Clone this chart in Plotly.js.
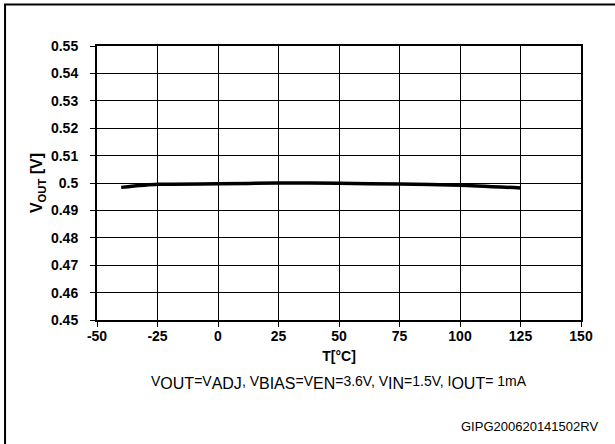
<!DOCTYPE html>
<html>
<head>
<meta charset="utf-8">
<script src="https://cdn.plot.ly/plotly-3.0.1.min.js"></script>
<style>html,body{margin:0;padding:0;background:#fff;}#chart{width:615px;height:444px;}</style>
</head>
<body>
<div id="chart"></div>
<script>
// Data
const temperature = [-40, -25, 0, 25, 50, 75, 100, 125];
const vout = [0.4984, 0.4995, 0.4997, 0.5000, 0.4999, 0.4996, 0.4992, 0.4982];
const xTicks = [-50, -25, 0, 25, 50, 75, 100, 125, 150];
const xTickText = ['-50', '-25', '0', '25', '50', '75', '100', '125', '150'];
const yTicks = [0.45, 0.46, 0.47, 0.48, 0.49, 0.5, 0.51, 0.52, 0.53, 0.54, 0.55];
const yTickText = ['0.45','0.46','0.47','0.48','0.49','0.5','0.51','0.52','0.53','0.54','0.55'];
const sb = s => '<sub><span style="font-size:16px">' + s + '</span></sub>';
const conditionText = 'V' + sb('OUT') + '=V' + sb('ADJ') + ', V' + sb('BIAS') + '=V' + sb('EN') +
  '=3.6V, V' + sb('IN') + '=1.5V, I' + sb('OUT') + '= 1mA';
const codeText = 'GIPG200620141502RV';

const font = 'Liberation Sans, Arial, sans-serif';

const trace = {
  x: temperature,
  y: vout,
  type: 'scatter',
  mode: 'lines',
  line: {color: '#000', width: 3.5, shape: 'spline', smoothing: 0.6},
  hoverinfo: 'skip'
};

const axisCommon = {
  showline: true, linecolor: '#000', linewidth: 2, mirror: true,
  showgrid: true, gridcolor: '#000', gridwidth: 1,
  ticks: 'outside', ticklen: 5, tickwidth: 1, tickcolor: '#000',
  zeroline: false,
  tickfont: {family: font, size: 14, color: '#000', weight: 'bold'}
};

const layout = {
  width: 615, height: 444,
  margin: {l: 97, r: 34, t: 46, b: 124},
  paper_bgcolor: '#fff', plot_bgcolor: '#fff',
  showlegend: false,
  xaxis: Object.assign({}, axisCommon, {
    range: [-50, 150], tickmode: 'array', tickvals: xTicks, ticktext: xTickText,
    ticklabelstandoff: -3,
    title: {text: 'T[°C]', font: {family: font, size: 14, color: '#000', weight: 'bold'}, standoff: 8}
  }),
  yaxis: Object.assign({}, axisCommon, {
    range: [0.45, 0.55], tickmode: 'array', tickvals: yTicks, ticktext: yTickText,
    ticklabelstandoff: 9,
    title: {text: 'V<sub>OUT</sub> [V]', font: {family: font, size: 16, color: '#000', weight: 'bold'}, standoff: 4}
  }),
  annotations: [
    {xref: 'paper', yref: 'paper', x: 0.5, y: -0.228, xanchor: 'center', yanchor: 'middle',
     text: conditionText, showarrow: false, font: {family: font, size: 14, color: '#000'}},
    {xref: 'paper', yref: 'paper', x: 1.04, y: -0.39, xanchor: 'right', yanchor: 'middle',
     text: codeText, showarrow: false, font: {family: font, size: 13, color: '#000'}}
  ],
  shapes: [
    {type: 'rect', xref: 'paper', yref: 'paper', x0: -0.19, x1: 1.3, y0: -0.6, y1: 1.1515,
     line: {color: '#000', width: 2}, layer: 'below'}
  ]
};

Plotly.newPlot('chart', [trace], layout, {displayModeBar: false, staticPlot: true});
</script>
</body>
</html>
